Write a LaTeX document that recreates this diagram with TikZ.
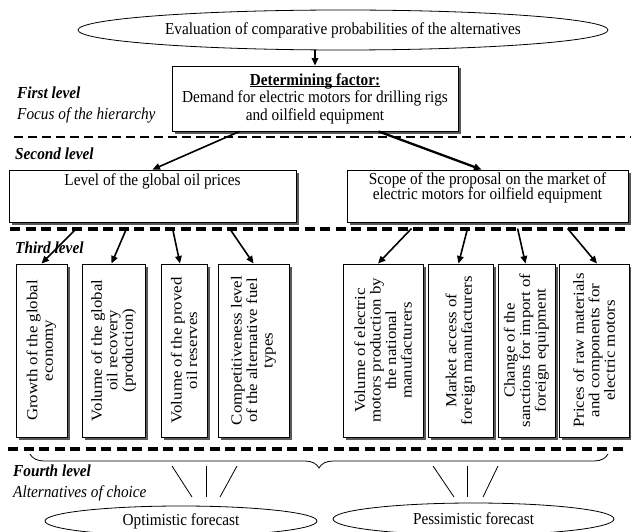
\documentclass[tikz,border=0pt]{standalone}
\usepackage{fontspec}
\setmainfont{Liberation Serif}[FakeStretch=0.91]
\newfontfamily\vertfont{Liberation Serif}[FakeStretch=1.1]
\usetikzlibrary{arrows.meta,shadows,decorations.pathreplacing,shapes.geometric}
\newcommand\myfs{\fontsize{16.8pt}{17.5pt}\selectfont}
\newcommand\mytightfs{\fontsize{16.8pt}{15.3pt}\selectfont\lineskiplimit=-100pt\relax}
\begin{document}
\begin{tikzpicture}[x=1pt,y=-1pt,
  every node/.style={font=\myfs},
  box/.style={draw, line width=0.9pt, fill=white, inner sep=0pt,
    drop shadow={shadow xshift=2.5pt, shadow yshift=-2.5pt, fill=black!65, opacity=1}},
  ell/.style={draw, ellipse, line width=0.8pt, inner sep=0pt, fill=white},
  arr/.style={line width=1.6pt, -{Triangle[length=7.5pt,width=6.5pt]}},
  lvline/.style={line width=3.5pt, dash pattern=on 10pt off 5.5pt},
  lab/.style={anchor=base west, inner sep=0pt, font=\myfs\itshape},
  blab/.style={anchor=base west, inner sep=0pt, font=\myfs\bfseries\itshape},
  vtext/.style={rotate=90, align=center, inner sep=0pt,
    font=\vertfont\fontsize{15.3pt}{15.5pt}\selectfont},
  thinl/.style={line width=0.8pt}
]
\useasboundingbox (0,0) rectangle (631,532);

% level separators
\draw[lvline, line width=2.3pt, dash pattern=on 9pt off 5pt] (14,137) -- (631,137);
\draw[lvline] (10,229) -- (627,229);
\draw[lvline] (8,449) -- (627,449);

% level labels
\node[blab] (l1) at (17,99) {First level};
\node[lab] (l1b) at (17,119) {Focus of the hierarchy};
\node[blab] (l2) at (15,159) {Second level};
\node[blab] (l3) at (15,253) {Third level};
\node[blab] (l4) at (13,476) {Fourth level};
\node[lab] (l4b) at (13,497) {Alternatives of choice};

% goal
\node[ell, minimum width=530pt, minimum height=40pt] (eval) at (343,30)
  {Evaluation of comparative probabilities of the alternatives};

% focus
\node[box, minimum width=286pt, minimum height=65pt, align=center] (det) at (315,98.5)
  {\underline{\raisebox{0pt}[\height][0pt]{\textbf{Determining factor:}}}\\
   Demand for electric motors for drilling rigs\\ and oilfield equipment};

% second level
\node[box, minimum width=287pt, minimum height=52pt] (lvl) at (152.5,196) {};
\node[inner sep=0pt, anchor=base] (lvltext) at (152.5,185) {Level of the global oil prices};
\node[box, minimum width=281pt, minimum height=52pt] (scope) at (487.5,196) {};
\node[inner sep=0pt, anchor=north, align=center, font=\mytightfs] (scopetext) at (487.5,172)
  {Scope of the proposal on the market of\\ electric motors for oilfield equipment};

% third level
\node[box, minimum width=51pt, minimum height=173pt] (b1) at (41.5,350.5) {};
\node[box, minimum width=63pt, minimum height=173pt] (b2) at (113.5,350.5) {};
\node[box, minimum width=46pt, minimum height=173pt] (b3) at (184,350.5) {};
\node[box, minimum width=71pt, minimum height=173pt] (b4) at (253.5,350.5) {};
\node[box, minimum width=80pt, minimum height=173pt] (b5) at (383,350.5) {};
\node[box, minimum width=65pt, minimum height=173pt] (b6) at (460.5,350.5) {};
\node[box, minimum width=57pt, minimum height=173pt] (b7) at (526.5,350.5) {};
\node[box, minimum width=70pt, minimum height=173pt] (b8) at (594,350.5) {};

\node[vtext] (t1) at (b1) {Growth of the global\\economy};
\node[vtext] (t2) at (b2) {Volume of the global\\oil recovery\\(production)};
\node[vtext] (t3) at (b3) {Volume of the proved\\oil reserves};
\node[vtext] (t4) at (b4) {Competitiveness level\\of the alternative fuel\\types};
\node[vtext] (t5) at (b5) {Volume of electric\\motors production by\\the national\\manufacturers};
\node[vtext] (t6) at (b6) {Market access of\\foreign manufacturers};
\node[vtext] (t7) at (b7) {Change of the\\sanctions for import of\\foreign equipment};
\node[vtext] (t8) at (b8) {Prices of raw materials\\and components for\\electric motors};

% alternatives
\node[ell, minimum width=272pt, minimum height=30pt] (opt) at (181,521) {Optimistic forecast};
\node[ell, minimum width=281pt, minimum height=32pt] (pes) at (473.5,519) {Pessimistic forecast};

% connectors
\draw[arr] (det.north |- eval.south) -- (det.north);
\draw[arr] ([xshift=68pt]det.south west) -- (lvl.north);
\draw[arr, line width=2.3pt] ([xshift=207pt]det.south west) -- ([xshift=-6pt]scope.north);

\draw[arr] ([xshift=68pt,yshift=-6pt]lvl.south west) -- (b1.north);
\draw[arr] ([xshift=118pt,yshift=-6pt]lvl.south west) -- ([xshift=-2pt]b2.north);
\draw[arr] ([xshift=164pt,yshift=-6pt]lvl.south west) -- ([xshift=-4pt]b3.north);
\draw[arr] ([xshift=221pt,yshift=-6pt]lvl.south west) -- (b4.north);
\draw[arr] ([xshift=65pt,yshift=-6pt]scope.south west) -- ([xshift=-5pt]b5.north);
\draw[arr] ([xshift=121pt,yshift=-6pt]scope.south west) -- ([xshift=-2pt]b6.north);
\draw[arr] ([xshift=171pt,yshift=-6pt]scope.south west) -- ([xshift=-1pt]b7.north);
\draw[arr] ([xshift=221pt,yshift=-6pt]scope.south west) -- ([xshift=3pt]b8.north);

% brace and choice lines
\draw[thinl, decorate, decoration={brace, mirror, amplitude=14pt}] (30,454) -- (608,454);
\draw[thinl] (172,466) -- (192,497);
\draw[thinl] (206,466) -- (206,497);
\draw[thinl] (237,466) -- (220,497);
\draw[thinl] (433,466) -- (454,497);
\draw[thinl] (467,466) -- (467,497);
\draw[thinl] (498,466) -- (483,497);
\end{tikzpicture}
\end{document}
